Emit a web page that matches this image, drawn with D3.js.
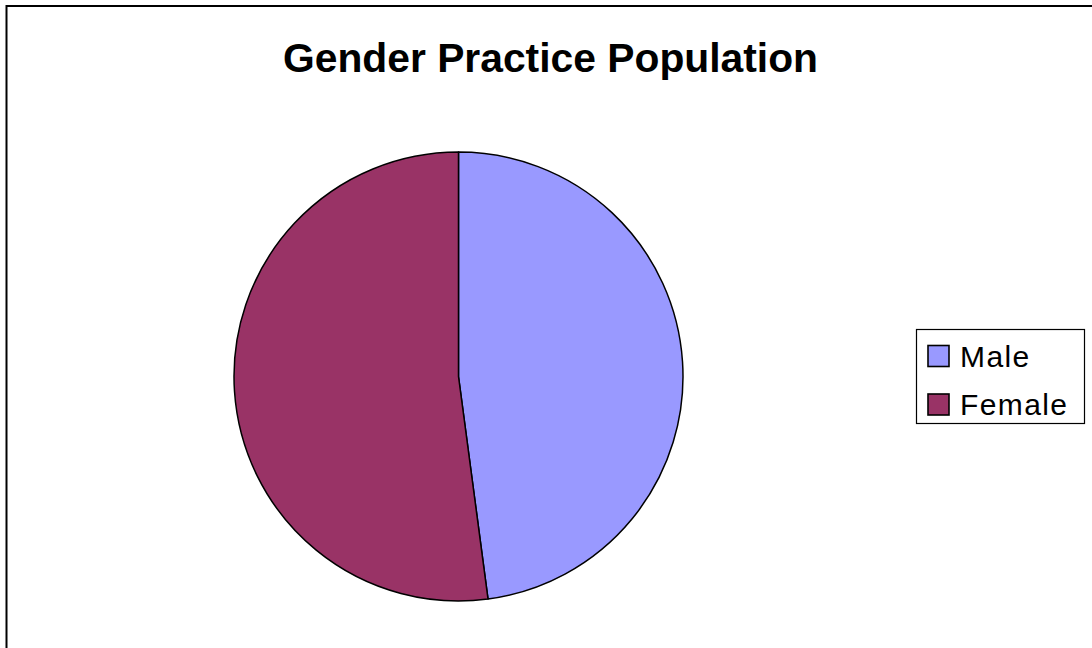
<!DOCTYPE html>
<html>
<head>
<meta charset="utf-8">
<script src="https://cdn.jsdelivr.net/npm/d3@7"></script>
<style>
  html, body { margin: 0; padding: 0; background: #fff; }
  svg { display: block; }
</style>
</head>
<body>
<svg id="chart" width="1092" height="648"></svg>
<script>
const title = "Gender Practice Population";
const categories = ["Male", "Female"];
const values = [47.9, 52.1];
const colors = ["#9999FF", "#993366"];

const svg = d3.select("#chart");
const W = 1092, H = 648;

// outer chart-area border
svg.append("rect")
  .attr("x", 6.5).attr("y", 6)
  .attr("width", W + 10).attr("height", H + 10)
  .attr("fill", "#fff")
  .attr("stroke", "#000").attr("stroke-width", 2);

// title
svg.append("text")
  .attr("x", 550.5).attr("y", 72)
  .attr("text-anchor", "middle")
  .attr("font-family", "'Liberation Sans', Arial, sans-serif")
  .attr("font-weight", "bold")
  .attr("font-size", 40.8)
  .attr("fill", "#000")
  .text(title);

// pie
const cx = 458.5, cy = 376.5, R = 224.5;
const data = categories.map((c, i) => ({ name: c, value: values[i], color: colors[i] }));
const pie = d3.pie().value(d => d.value).sort(null);
const arc = d3.arc().innerRadius(0).outerRadius(R);

svg.append("g")
  .attr("transform", `translate(${cx},${cy})`)
  .selectAll("path")
  .data(pie(data))
  .join("path")
  .attr("d", arc)
  .attr("fill", d => d.data.color)
  .attr("stroke", "#000")
  .attr("stroke-width", 1.5)
  .attr("stroke-linejoin", "round");

// legend
const lg = svg.append("g");
lg.append("rect")
  .attr("x", 916.5).attr("y", 329.5)
  .attr("width", 168).attr("height", 94)
  .attr("fill", "#fff")
  .attr("stroke", "#000").attr("stroke-width", 1.2);

const ly = d3.scaleBand().domain(categories).range([331.75, 428.75]).padding(0);
const items = lg.selectAll("g.item").data(data).join("g").attr("class", "item");
items.append("rect")
  .attr("x", 928).attr("y", d => ly(d.name) + ly.bandwidth() / 2 - 10.5)
  .attr("width", 21).attr("height", 21)
  .attr("fill", d => d.color)
  .attr("stroke", "#000").attr("stroke-width", 1.6);
items.append("text")
  .attr("x", 960).attr("y", d => ly(d.name) + ly.bandwidth() / 2 + 10.5)
  .attr("font-family", "'Liberation Sans', Arial, sans-serif")
  .attr("font-size", 30)
  .attr("letter-spacing", 1.4)
  .attr("fill", "#000")
  .text(d => d.name);
</script>
</body>
</html>
